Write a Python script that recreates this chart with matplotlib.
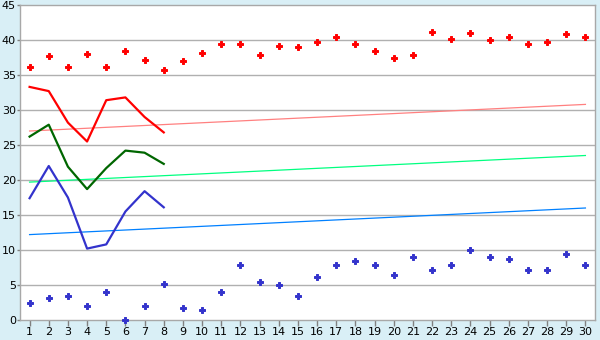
import matplotlib
matplotlib.use("Agg")
import matplotlib.pyplot as plt

days = list(range(1, 31))
line_days = list(range(1, 9))

red_pts = [36.2, 37.7, 36.2, 38.0, 36.2, 38.4, 37.1, 35.7, 37.0, 38.1,
           39.5, 39.4, 37.8, 39.1, 39.0, 39.7, 40.4, 39.5, 38.4, 37.4,
           37.8, 41.2, 40.1, 41.0, 40.0, 40.4, 39.5, 39.7, 40.8, 40.4]
blue_pts = [2.4, 3.2, 3.4, 2.0, 4.0, 0.0, 2.0, 5.2, 1.7, 1.5,
            4.0, 7.8, 5.5, 5.0, 3.4, 6.1, 7.8, 8.4, 7.8, 6.4,
            9.0, 7.2, 7.8, 10.0, 9.0, 8.7, 7.2, 7.2, 9.4, 7.8]

red_line = [33.3, 32.7, 28.2, 25.5, 31.4, 31.8, 29.0, 26.8]
green_line = [26.2, 27.9, 21.9, 18.7, 21.7, 24.2, 23.9, 22.3]
blue_line = [17.4, 22.0, 17.5, 10.2, 10.8, 15.5, 18.4, 16.1]

# trend lines: value at day 1 and day 30
trend_x = [1, 30]
red_trend = [27.0, 30.8]
green_trend = [19.7, 23.5]
blue_trend = [12.2, 16.0]

yticks = [0, 5, 10, 15, 20, 25, 30, 35, 40, 45]

bg = "#D9EFF6"
fig = plt.figure(figsize=(6, 3.4), dpi=100, facecolor=bg)
ax = fig.add_axes([20 / 600, 20 / 340, 575 / 600, 315 / 340])
ax.set_facecolor("white")

for y in yticks[1:-1]:
    ax.axhline(y, color="#B0B0B0", lw=1, zorder=1)

ax.plot(trend_x, red_trend, color="#FF8080", lw=0.9, zorder=2)
ax.plot(trend_x, green_trend, color="#00FF80", lw=0.9, zorder=2)
ax.plot(trend_x, blue_trend, color="#0080FF", lw=0.9, zorder=2)

ax.plot(line_days, red_line, color="#FF0000", lw=1.6, zorder=3)
ax.plot(line_days, green_line, color="#006600", lw=1.6, zorder=3)
ax.plot(line_days, blue_line, color="#3333CC", lw=1.6, zorder=3)

ax.plot(days, red_pts, ls="none", marker="P", ms=4, color="#FF0000",
        mec="#FF0000", mew=0.7, zorder=4, clip_on=False)
ax.plot(days, blue_pts, ls="none", marker="P", ms=4, color="#3333CC",
        mec="#3333CC", mew=0.7, zorder=4, clip_on=False)

ax.set_xlim(0.5, 30.5)
ax.set_ylim(0, 45)
ax.set_xticks(days)
ax.set_yticks(yticks)
ax.tick_params(axis="both", colors="#808080", labelcolor="black",
               labelsize=8, width=1)
ax.tick_params(axis="x", length=4, pad=1)
ax.tick_params(axis="y", length=2, pad=1)
for s in ax.spines.values():
    s.set_color("#A8A8A8")
    s.set_linewidth(1)

fig.savefig("out.png", dpi=100, facecolor=bg)
